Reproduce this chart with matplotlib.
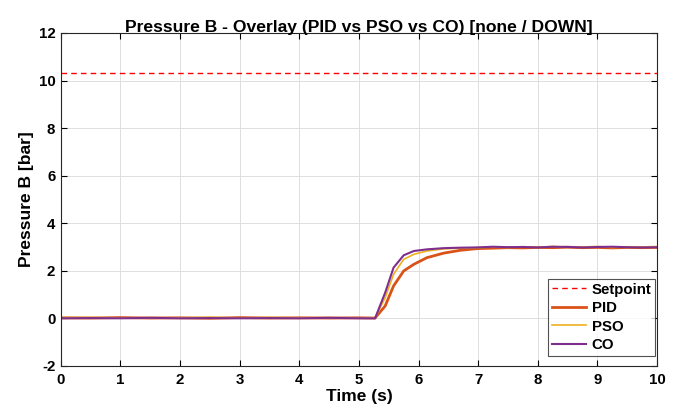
"""Pressure B overlay: PID vs PSO vs CO step response (MATLAB-style)."""

import matplotlib
matplotlib.use("Agg")
import matplotlib.pyplot as plt

# === DATA ===

setpoint = 10.33

time_s = [0.0, 0.5, 1.0, 1.5, 2.0, 2.5, 3.0, 3.5, 4.0, 4.5, 5.0, 5.27,
          5.44, 5.58, 5.75, 5.92, 6.14, 6.42, 6.70, 6.98, 7.25, 7.5, 7.75,
          8.0, 8.25, 8.5, 8.75, 9.0, 9.25, 9.5, 9.75, 10.0]

pid = [0.02, 0.01, 0.03, 0.01, 0.02, 0.00, 0.03, 0.01, 0.02, 0.01, 0.02, 0.01,
       0.52, 1.36, 1.99, 2.27, 2.55, 2.74, 2.86, 2.93, 2.95, 2.97, 2.96,
       2.98, 2.97, 2.99, 2.97, 2.98, 2.96, 2.98, 2.97, 2.98]

pso = [0.03, 0.04, 0.01, 0.03, 0.02, 0.05, 0.01, 0.04, 0.02, 0.03, 0.01, 0.02,
       0.87, 1.85, 2.48, 2.69, 2.83, 2.92, 2.95, 2.97, 3.00, 2.98, 3.01,
       2.99, 3.02, 2.99, 3.00, 3.02, 2.98, 3.01, 3.00, 3.02]

co = [0.00, 0.01, 0.00, 0.02, 0.00, 0.01, 0.00, 0.01, 0.00, 0.02, 0.00, 0.00,
      1.08, 2.13, 2.65, 2.83, 2.90, 2.95, 2.97, 2.98, 3.01, 2.99, 3.00,
      2.98, 3.01, 3.00, 2.98, 3.00, 3.01, 2.99, 2.98, 2.99]

x_ticks = list(range(0, 11))
y_ticks = list(range(-2, 13, 2))

# === PLOT ===

plt.rcParams["font.family"] = ["Liberation Sans", "DejaVu Sans"]
plt.rcParams["font.weight"] = "bold"
plt.rcParams["axes.unicode_minus"] = False

figure = plt.figure(figsize=(6.76, 4.12), dpi=100)
axis = figure.add_axes([0.090, 0.112, 0.882, 0.808])

axis.axhline(setpoint, color="#FF0000", linestyle=(0, (4, 3)), linewidth=1.0,
             label="Setpoint")
axis.plot(time_s, pid, color="#D95319", linewidth=2.0, label="PID")
axis.plot(time_s, pso, color="#EDB120", linewidth=1.2, label="PSO")
axis.plot(time_s, co, color="#7E2F8E", linewidth=1.5, label="CO")

axis.set_xlim(0, 10)
axis.set_ylim(-2, 12)
axis.set_xticks(x_ticks)
axis.set_yticks(y_ticks)
axis.tick_params(direction="in", length=4, width=0.8, labelsize=10.8,
                 top=True, right=True)
axis.tick_params(axis="x", pad=5.3)
axis.tick_params(axis="y", pad=4)
axis.grid(True, color="#DEDEDE", linewidth=0.7)
axis.set_axisbelow(True)
for spine in axis.spines.values():
    spine.set_color("#262626")
    spine.set_linewidth(0.8)

axis.set_title("Pressure B - Overlay (PID vs PSO vs CO) [none / DOWN]",
               fontsize=12.6, fontweight="bold", pad=1)
axis.set_xlabel("Time (s)", fontsize=12.5, fontweight="bold", labelpad=1.5)
axis.set_ylabel("Pressure B [bar]", fontsize=12.5, fontweight="bold", labelpad=3)

legend = axis.legend(loc="lower right", bbox_to_anchor=(0.9966, 0.030),
                     fontsize=10.8, frameon=True, fancybox=False,
                     edgecolor="#262626", borderpad=0.25, borderaxespad=0,
                     handlelength=2.3, handletextpad=0.35, labelspacing=0.3)
legend.get_frame().set_linewidth(0.8)
for text in legend.get_texts():
    text.set_fontweight("bold")

figure.savefig("out.png", dpi=100)
